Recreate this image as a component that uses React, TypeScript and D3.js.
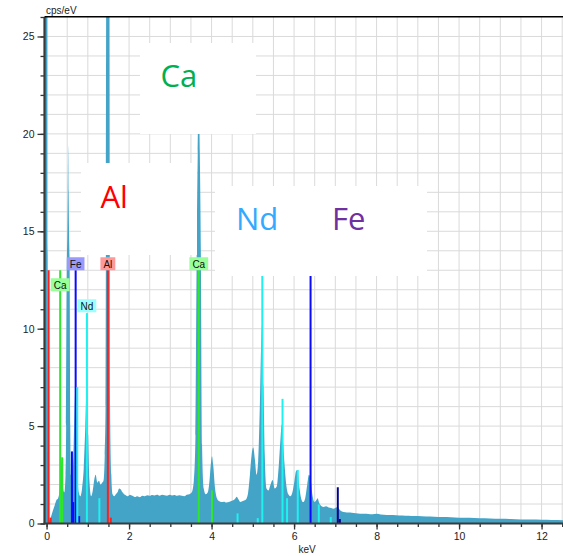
import * as d3 from "d3";
import { useRef, useEffect } from "react";

// spectrum, keV vs cps/eV
const energies = [
  -0.05, 0.0, 0.02, 0.04, 0.07, 0.1, 0.13, 0.16, 0.2, 0.24, 0.28, 0.31, 0.34, 0.37, 0.4, 0.43, 0.46,
  0.475, 0.49, 0.505, 0.515, 0.525, 0.535, 0.545, 0.56, 0.575, 0.59, 0.62, 0.65, 0.68, 0.7, 0.72, 0.75,
  0.78, 0.82, 0.86, 0.9, 0.94, 0.98,
  1.01, 1.04, 1.08, 1.12, 1.16, 1.19, 1.23, 1.27, 1.31, 1.35, 1.38, 1.41, 1.43, 1.45, 1.486, 1.52, 1.54,
  1.57, 1.6, 1.64, 1.68, 1.72, 1.76, 1.8, 1.84, 1.88, 1.92, 1.97, 2.02, 2.08, 2.14, 2.2, 2.26, 2.32,
  2.38, 2.44, 2.5, 2.56, 2.62, 2.68, 2.74, 2.8, 2.86, 2.92, 2.98, 3.04, 3.1, 3.16, 3.22, 3.28, 3.34,
  3.4, 3.46, 3.52, 3.57, 3.61, 3.64, 3.665, 3.69, 3.715, 3.74, 3.77, 3.81, 3.86, 3.91, 3.95, 3.98, 4.01, 4.04, 4.08,
  4.13, 4.18, 4.24, 4.3, 4.36, 4.42, 4.48, 4.54, 4.58, 4.61, 4.65, 4.7, 4.76, 4.82, 4.88, 4.93, 4.97,
  5.01, 5.05, 5.09, 5.13, 5.17, 5.2, 5.23, 5.26, 5.29, 5.33, 5.38, 5.43, 5.48, 5.53, 5.58, 5.63, 5.67,
  5.7, 5.73, 5.77, 5.81, 5.86, 5.91, 5.96, 6.01, 6.05, 6.08, 6.12, 6.17, 6.22, 6.27, 6.32, 6.36, 6.4,
  6.45, 6.5, 6.54, 6.57, 6.61, 6.66, 6.72, 6.78, 6.84, 6.9, 6.96, 7.02, 7.06, 7.1, 7.16, 7.24, 7.32,
  7.4, 7.5, 7.6, 7.7, 7.8, 7.9, 8.0, 8.1, 8.25, 8.4, 8.55, 8.7, 8.85, 9.0, 9.2, 9.4, 9.6, 9.8, 10.0,
  10.25, 10.5, 10.75, 11.0, 11.25, 11.5, 11.75, 12.0, 12.25, 12.55,
];
const counts = [
  300, 300, 30, 1.5, 0.15, 0.3, 0.5, 0.7, 0.95, 1.2, 1.3, 1.6, 2.5, 3.4, 1.8, 1.6, 2.5,
  5, 13, 15, 17, 19.4, 17, 15, 13, 5, 2.5, 2.2, 3.5, 6, 7, 5.5, 2.5,
  1.6, 1.4, 1.8, 2.8, 5, 7.5,
  4.5, 2.2, 1.4, 1.7, 2.3, 2.5, 2.1, 2.2, 2.0, 2.1, 2.2, 3.5, 6, 40, 150, 40, 6,
  2.5, 1.5, 1.4, 1.5, 1.6, 1.8, 1.75, 1.6, 1.5, 1.45, 1.4, 1.48, 1.42, 1.36, 1.4, 1.35, 1.43,
  1.4, 1.45, 1.42, 1.46, 1.44, 1.47, 1.43, 1.48, 1.45, 1.42, 1.47, 1.44, 1.46, 1.42, 1.45, 1.43, 1.4,
  1.48, 1.5, 1.6, 2.2, 4.5, 14, 19, 22, 19, 14, 4, 1.8, 1.5, 1.6, 2.2, 3.0, 3.45, 3.0, 1.9,
  1.3, 1.15, 1.1, 1.12, 1.08, 1.1, 1.15, 1.2, 1.3, 1.37, 1.25, 1.1, 1.15, 1.2, 1.5, 2.5, 3.5,
  3.9, 3.3, 2.5, 3.2, 6, 9, 10.3, 7, 3.5, 1.8, 1.7, 2.0, 2.23, 1.8, 1.9, 3.0, 4.3,
  5.1, 4.3, 3.0, 2.0, 1.5, 1.4, 1.6, 2.2, 2.7, 2.74, 2.0, 1.3, 1.1, 1.3, 2.0, 2.5, 2.3,
  1.4, 1.1, 1.2, 1.3, 1.05, 0.9, 0.85, 0.88, 0.82, 0.8, 0.76, 0.82, 0.85, 0.72, 0.62, 0.58, 0.56,
  0.55, 0.52, 0.5, 0.5, 0.49, 0.47, 0.5, 0.46, 0.44, 0.43, 0.41, 0.4, 0.39, 0.38, 0.36, 0.35, 0.33, 0.32, 0.3,
  0.29, 0.27, 0.26, 0.24, 0.23, 0.21, 0.2, 0.19, 0.18, 0.17,
];

// element marker lines (keV, height in cps/eV)
const alEnergies = [0.05, 0.1, 1.486, 1.557];
const alHeights = [13, 0.3, 13, 0.3];
const caEnergies = [0.33, 0.38, 3.69, 4.01];
const caHeights = [13, 3.4, 13, 1.7];
const feEnergies = [0.615, 0.645, 0.705, 0.79, 6.4, 7.06, 7.11];
const feHeights = [3.7, 1.1, 13, 0.38, 13, 1.86, 0.23];
const ndEnergies = [0.745, 0.978, 1.28, 4.63, 5.12, 5.23, 5.72, 5.83, 6.09, 6.6, 6.89];
const ndHeights = [7, 10.8, 1.3, 0.52, 0.28, 13, 6.4, 1.3, 2.75, 0.98, 0.33];

// small tags above lines
const tagNames = ["Fe", "Al", "Ca", "Ca", "Nd"];
const tagEnergies = [0.705, 1.486, 0.33, 3.69, 0.978];
const tagLevel = 13;

const xTicks = [0, 2, 4, 6, 8, 10, 12];
const yTicks = [0, 5, 10, 15, 20, 25];

// big callout words
const calloutWords = ["Ca", "Al", "Nd", "Fe"];

const lineColor = { Al: "#ff1f1f", Ca: "#2ee62e", Fe: "#0a0aff", Nd: "#1ff0f0" };
const tagColor = { Al: "#ff9999", Ca: "#99ff99", Fe: "#9999ff", Nd: "#99ffff" };
const wordColor = { Ca: "#00b050", Al: "#ff0000", Nd: "#33aaff", Fe: "#7030a0" };
// callout layout in pixels: boxes [x0, y0, x1, y1] and word anchors [x, baseline]
const calloutBoxes = [[140, 43, 256, 134], [81, 163, 197, 255], [215, 186, 427, 276], null];
const wordPos = [[160.5, 87], [100.5, 208], [236, 230], [332, 230]];

const W = 563, H = 556;
const left = 44.5, top = 17, bottom = 523.5;
const font = "'Liberation Sans', Arial, sans-serif";

export default function App() {
  const ref = useRef<SVGSVGElement>(null);

  useEffect(() => {
    const svg = d3.select(ref.current);
    svg.selectAll("*").remove();

    const x = d3.scaleLinear().domain([-0.05, 12.55]).range([left, left + 12.6 * 41.25]);
    const y = d3.scaleLinear().domain([0, 26]).range([bottom, top]);

    // grid
    const grid = svg.append("g").attr("stroke", "#dadada").attr("stroke-width", 1);
    grid.selectAll("line.v")
      .data(x.ticks(25).filter(d => d > 0))
      .enter().append("line")
      .attr("x1", d => x(d)).attr("x2", d => x(d))
      .attr("y1", top).attr("y2", bottom);
    grid.selectAll("line.h")
      .data(y.ticks(26).filter(d => d > 0 && d < 26))
      .enter().append("line")
      .attr("x1", left).attr("x2", W)
      .attr("y1", d => y(d)).attr("y2", d => y(d));

    svg.append("clipPath").attr("id", "plot-clip")
      .append("rect").attr("x", left).attr("y", top)
      .attr("width", W - left).attr("height", bottom - top);

    // spectrum
    const pts = energies.map((e, i) => [e, counts[i]] as [number, number]);
    const area = d3.area<[number, number]>()
      .x(d => x(d[0]))
      .y0(y(0))
      .y1(d => y(d[1]))
      .curve(d3.curveMonotoneX);
    svg.append("path")
      .datum(pts)
      .attr("clip-path", "url(#plot-clip)")
      .attr("d", area)
      .attr("fill", "#43a4c8");

    // marker lines
    const sets = [
      { name: "Al", e: alEnergies, h: alHeights },
      { name: "Ca", e: caEnergies, h: caHeights },
      { name: "Fe", e: feEnergies, h: feHeights },
      { name: "Nd", e: ndEnergies, h: ndHeights },
    ];
    sets.forEach(s => {
      svg.append("g").selectAll("line")
        .data(s.e.map((e, i) => [e, s.h[i]]))
        .enter().append("line")
        .attr("x1", d => x(d[0])).attr("x2", d => x(d[0]))
        .attr("y1", y(0)).attr("y2", d => y(d[1]))
        .attr("stroke", d => (s.name === "Fe" && d[0] > 7 ? "#00008c" : lineColor[s.name]))
        .attr("stroke-width", 2);
    });

    // tags, pushed down a lane when they would collide
    const placed: { x0: number; x1: number; lane: number }[] = [];
    tagNames.forEach((name, i) => {
      const cx = x(tagEnergies[i]);
      const g = svg.append("g");
      const rect = g.append("rect");
      const t = g.append("text")
        .text(name)
        .attr("x", cx)
        .attr("text-anchor", "middle")
        .style("font-family", font)
        .style("font-size", "10px")
        .attr("fill", "#111");
      const w = (t.node() as SVGTextElement).getComputedTextLength() + 6;
      const x0 = cx - w / 2;
      let lane = 0;
      while (placed.some(p => p.lane === lane && x0 < p.x1 + 12 && x0 + w > p.x0 - 12)) lane++;
      placed.push({ x0, x1: x0 + w, lane });
      const by = y(tagLevel) - 13 + lane * 21;
      rect.attr("x", x0).attr("y", by).attr("width", w).attr("height", 13)
        .attr("fill", tagColor[name]);
      t.attr("y", by + 10.5);
    });

    // callouts
    calloutBoxes.forEach(b => {
      if (!b) return;
      svg.append("rect")
        .attr("x", b[0]).attr("y", b[1])
        .attr("width", b[2] - b[0]).attr("height", b[3] - b[1])
        .attr("fill", "#fff");
    });
    calloutWords.forEach((word, i) => {
      svg.append("text")
        .text(word)
        .attr("x", wordPos[i][0]).attr("y", wordPos[i][1])
        .attr("fill", wordColor[word])
        .style("font-family", "'Open Sans', 'Noto Sans', sans-serif")
        .style("font-size", "31px");
    });

    // axes
    const yAxis = svg.append("g").attr("transform", `translate(${left},0)`);
    yAxis.call(d3.axisLeft(y).tickValues(d3.range(0, 27)).tickSize(4).tickSizeOuter(0).tickFormat(() => ""));
    yAxis.append("g").call(d3.axisLeft(y).tickValues(yTicks).tickSize(7).tickPadding(3).tickSizeOuter(0));
    const xAxis = svg.append("g").attr("transform", `translate(0,${bottom})`);
    xAxis.call(d3.axisBottom(x).tickValues(x.ticks(25)).tickSize(3.5).tickSizeOuter(0).tickFormat(() => ""));
    xAxis.append("g").call(d3.axisBottom(x).tickValues(xTicks).tickSize(6).tickPadding(3).tickSizeOuter(0));

    svg.selectAll(".domain").remove();
    svg.selectAll(".tick line").attr("stroke", "#333").attr("stroke-width", 1.3);
    svg.selectAll(".tick text")
      .attr("fill", "#222")
      .style("font-family", font)
      .style("font-size", "10.5px");

    svg.append("line")
      .attr("x1", left).attr("x2", left).attr("y1", top).attr("y2", bottom + 1)
      .attr("stroke", "#3a3a3a").attr("stroke-width", 2.2);
    svg.append("line")
      .attr("x1", left - 1).attr("x2", W).attr("y1", bottom).attr("y2", bottom)
      .attr("stroke", "#3a3a3a").attr("stroke-width", 2.2);
    svg.append("line")
      .attr("x1", left).attr("x2", W).attr("y1", top - 0.25).attr("y2", top - 0.25)
      .attr("stroke", "#000").attr("stroke-width", 1.5);

    svg.append("text")
      .text("cps/eV")
      .attr("x", 46).attr("y", 14)
      .style("font-family", font).style("font-size", "10px").attr("fill", "#222");
    svg.append("text")
      .text("keV")
      .attr("x", 307).attr("y", 553)
      .attr("text-anchor", "middle")
      .style("font-family", font).style("font-size", "10px").attr("fill", "#222");
  }, []);

  return (
    <svg
      ref={ref}
      width={W}
      height={H}
      style={{ position: "absolute", left: 0, top: 0, background: "#fff" }}
    ></svg>
  );
}
